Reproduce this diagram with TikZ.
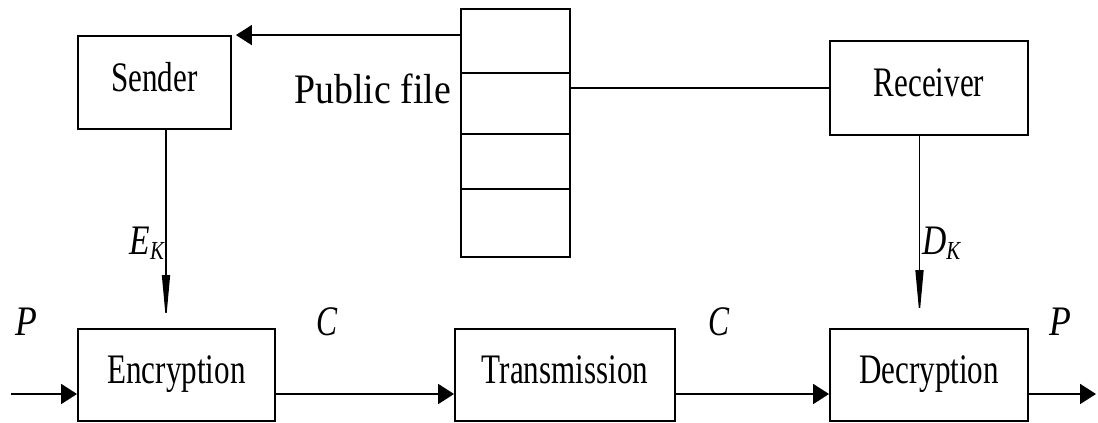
\documentclass[tikz,border=0pt]{standalone}
\usepackage{fontspec}
\setmainfont{Liberation Serif}
\usepackage{graphicx}
\usetikzlibrary{arrows.meta,calc}
\newcommand{\cond}[2][0.74]{\scalebox{#1}[1]{#2}}
\begin{document}
\begin{tikzpicture}[x=1pt,y=-1pt,
  box/.style={draw,line width=1.9pt,inner sep=0pt,text height=30pt,text depth=13pt,font=\fontsize{42}{50}\selectfont},
  cell/.style={draw,line width=1.9pt,inner sep=0pt,minimum width=109pt},
  lbl/.style={inner sep=0pt,font=\fontsize{42}{50}\selectfont},
  conn/.style={line width=1.9pt},
  arr/.style={line width=1.9pt,-{Triangle[length=16pt,width=20pt]}},
  key/.style={line width=1.4pt,-{Triangle[length=46pt,width=8pt]}}]
\useasboundingbox (0,0) rectangle (1098,423);
% boxes
\node[box,minimum width=153pt,minimum height=93pt] (sender) at (154.5,82.5) {\cond{Sender}};
\node[box,minimum width=198pt,minimum height=94pt] (receiver) at (929,88) {\cond{Receiver}};
\node[box,minimum width=197pt,minimum height=92pt] (enc) at (176.5,375) {\cond{Encryption}};
\node[box,minimum width=220pt,minimum height=92pt] (tr) at (565,375) {\cond{Transmission}};
\node[box,minimum width=198pt,minimum height=92pt] (dec) at (929,375) {\cond{Decryption}};
% public file stack
\node[cell,minimum height=64pt] (f1) at (515.5,41) {};
\node[cell,minimum height=61pt] (f2) at (515.5,103.5) {};
\node[cell,minimum height=55pt] (f3) at (515.5,161.5) {};
\node[cell,minimum height=68pt] (f4) at (515.5,223) {};
\node[lbl,anchor=base east] (pf) at (451,103) {\cond[0.9]{Public file}};
% connectors top
\coordinate (stip) at ($(sender.north east)+(4,0)$);
\draw[arr] (f1.west |- sender.north) -- (stip);
\draw[conn] (receiver.west) -- (receiver.west -| f2.east);
% key arrows
\coordinate (ke) at (166,321);
\coordinate (kd) at (919.5,316);
\draw[key] (sender.south -| ke) -- (ke);
\draw[key] (receiver.south -| kd) -- (kd);
\node[lbl,anchor=east] (ek) at (165,243) {\cond[0.8]{\textit{E}\raisebox{-0.25ex}{\fontsize{26}{30}\selectfont\textit{K}}}};
\node[lbl,anchor=west] (dk) at (922,243) {\cond[0.8]{\textit{D}\raisebox{-0.25ex}{\fontsize{26}{30}\selectfont\textit{K}}}};
% main chain
\coordinate (in) at (11,394);
\coordinate (out) at (1096,394);
\draw[arr] (in) -- (in -| enc.west);
\draw[arr] (enc.east |- in) -- (tr.west |- in);
\draw[arr] (tr.east |- in) -- (dec.west |- in);
\draw[arr] (dec.east |- in) -- (out);
\node[lbl] (p1) at (26,322) {\cond[0.85]{\textit{P}}};
\node[lbl] (c1) at (327,322) {\cond[0.75]{\textit{C}}};
\node[lbl] (c2) at (719,322) {\cond[0.75]{\textit{C}}};
\node[lbl] (p2) at (1060,322) {\cond[0.85]{\textit{P}}};
\end{tikzpicture}
\end{document}
